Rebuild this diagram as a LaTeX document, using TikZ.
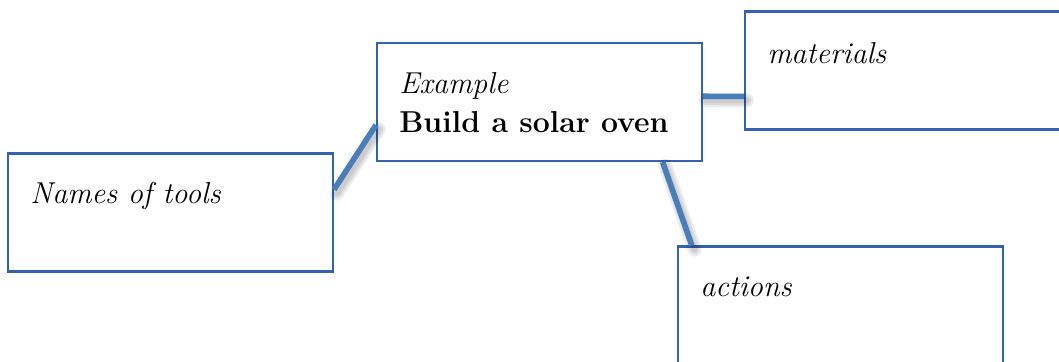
\documentclass[tikz,border=0pt]{standalone}

\definecolor{boxblue}{RGB}{52,98,176}
\definecolor{linkblue}{RGB}{74,126,187}

\begin{document}
\begin{tikzpicture}[
    box/.style={rectangle, draw=boxblue, line width=1.5pt, fill=white, minimum width=8.125cm, minimum height=2.95cm, inner sep=0pt},
    words/.style={anchor=base west, inner sep=0pt, font=\fontsize{21.5}{26}\selectfont},
    link/.style={linkblue, line width=4pt},
    linkshadow/.style={black, opacity=0.07, line cap=round}
]
    \clip (0,0) rectangle (26.475,-9.025);

    % Boxes
    \node[box] (main) at (13.4875,-2.55) {};
    \node[box] (materials) at (22.6875,-1.7625) {};
    \node[box] (tools) at (4.2625,-5.3125) {};
    \node[box] (actions) at (21.0125,-7.6375) {};

    % Soft shadows under the links
    \begin{scope}[transform canvas={shift={(0.07,-0.1)}}]
        \foreach \w in {10pt,7pt,4pt}
            \draw[linkshadow, line width=\w] (main.188) -- (tools.8)
                (main.2) -- (materials.189)
                (main.334) -- (actions.158);
    \end{scope}

    % Links
    \draw[link] (main.188) -- (tools.8);
    \draw[link] (main.2) -- (materials.189);
    \draw[link] (main.334) -- (actions.158);

    % Texts
    \node[words] (mainTitle) at (9.975,-2.325) {\textit{Example}};
    \node[words] (mainTopic) at (9.975,-3.3) {\textbf{Build a solar oven}};
    \node[words] (materialsText) at (19.175,-1.575) {\textit{materials}};
    \node[words] (toolsText) at (0.75,-5.075) {\textit{Names of tools}};
    \node[words] (actionsText) at (17.5,-7.4) {\textit{actions}};
\end{tikzpicture}
\end{document}
